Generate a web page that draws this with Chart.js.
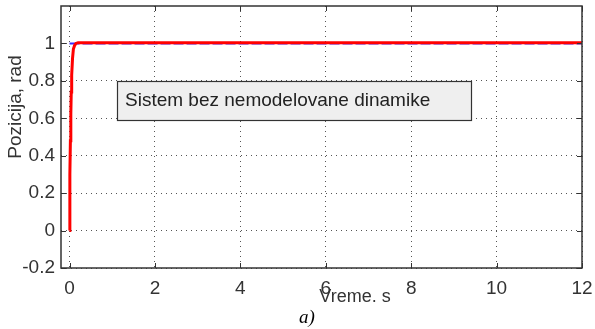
<!DOCTYPE html>
<html>
<head>
<meta charset="utf-8">
<script src="https://cdn.jsdelivr.net/npm/chart.js@4.4.1/dist/chart.umd.min.js"></script>
<style>
  html, body { margin: 0; padding: 0; background: #fff; }
  #wrap { width: 595px; height: 329px; position: relative; }
</style>
</head>
<body>
<div id="wrap"><canvas id="c" width="595" height="329"></canvas></div>
<script>
// Step response of the position loop (time in s, position in rad)
const timeResp = [0, 0.005, 0.01, 0.02, 0.03, 0.04, 0.05, 0.07, 0.09, 0.12, 0.15, 0.2, 0.5, 1, 2, 4, 6, 8, 10, 12];
const posResp  = [0, 0.15, 0.3, 0.48, 0.62, 0.74, 0.83, 0.92, 0.97, 0.99, 1.0, 1.004, 1.004, 1.004, 1.004, 1.004, 1.004, 1.004, 1.004, 1.004];
// Reference position
const timeRef = [0, 12];
const posRef  = [1.0, 1.0];
const xTicks = [0, 2, 4, 6, 8, 10, 12];
const yTicks = [-0.2, 0, 0.2, 0.4, 0.6, 0.8, 1];
const xTitle = 'Vreme. s';
const yTitle = 'Pozicija, rad';
const boxText = 'Sistem bez nemodelovane dinamike';
const caption = 'a)';

const toXY = (xs, ys) => xs.map((x, i) => ({ x, y: ys[i] }));

const FONT = '"Liberation Sans", Arial, sans-serif';

const decor = {
  id: 'decor',
  afterDraw(chart) {
    const { ctx, chartArea: a, scales } = chart;
    const xs = scales.x, ys = scales.y;
    ctx.save();
    // inward ticks on all four sides
    ctx.strokeStyle = '#333';
    ctx.lineWidth = 1;
    const L = 5;
    xTicks.forEach(v => {
      const px = Math.round(xs.getPixelForValue(v)) + 0.5;
      ctx.beginPath();
      ctx.moveTo(px, a.bottom); ctx.lineTo(px, a.bottom - L);
      ctx.moveTo(px, a.top); ctx.lineTo(px, a.top + L);
      ctx.stroke();
    });
    yTicks.forEach(v => {
      const py = Math.round(ys.getPixelForValue(v)) + 0.5;
      ctx.beginPath();
      ctx.moveTo(a.left, py); ctx.lineTo(a.left + L, py);
      ctx.moveTo(a.right, py); ctx.lineTo(a.right - L, py);
      ctx.stroke();
    });
    // frame
    ctx.strokeStyle = '#333';
    ctx.lineWidth = 1.5;
    ctx.strokeRect(a.left, a.top, a.right - a.left, a.bottom - a.top);

    // annotation box
    ctx.fillStyle = '#efefef';
    ctx.fillRect(117, 81, 354, 39);
    ctx.strokeStyle = '#333';
    ctx.lineWidth = 1.2;
    ctx.strokeRect(117.5, 81.5, 354, 39);
    ctx.fillStyle = '#222';
    ctx.font = '19px ' + FONT;
    ctx.textBaseline = 'middle';
    ctx.textAlign = 'left';
    ctx.fillText(boxText, 125, 101);

    // axis titles
    ctx.fillStyle = '#333';
    ctx.font = '18px ' + FONT;
    ctx.textAlign = 'center';
    ctx.fillText(xTitle, 355, 297);
    ctx.save();
    ctx.translate(16, 107);
    ctx.rotate(-Math.PI / 2);
    ctx.font = '19px ' + FONT;
    ctx.fillText(yTitle, 0, 0);
    ctx.restore();

    // caption
    ctx.fillStyle = '#000';
    ctx.font = 'italic 19px "Liberation Serif", "Times New Roman", serif';
    ctx.fillText(caption, 307, 318);
    ctx.restore();
  }
};

new Chart(document.getElementById('c'), {
  type: 'scatter',
  data: {
    datasets: [
      {
        label: 'ref',
        data: toXY(timeRef, posRef),
        showLine: true,
        borderColor: '#3a2bff',
        borderWidth: 2,
        borderDash: [10, 3],
        pointRadius: 0,
        order: 2
      },
      {
        label: 'resp',
        data: toXY(timeResp, posResp),
        showLine: true,
        borderColor: '#ff0000',
        borderWidth: 3,
        pointRadius: 0,
        tension: 0,
        order: 1
      }
    ]
  },
  options: {
    responsive: false,
    animation: false,
    devicePixelRatio: 1,
    layout: { padding: { left: 0, right: 13, top: 6, bottom: 0 } },
    plugins: { legend: { display: false }, tooltip: { enabled: false } },
    scales: {
      x: {
        type: 'linear',
        min: -0.2, max: 12,
        afterBuildTicks: s => { s.ticks = xTicks.map(v => ({ value: v })); },
        afterFit: s => { s.height = 61; s.paddingLeft = 0; s.paddingRight = 0; },
        grid: { color: '#555', lineWidth: 1, drawTicks: false, tickLength: 0 },
        border: { display: false, dash: [1, 4] },
        ticks: { color: '#333', font: { family: FONT, size: 19 }, padding: 9, maxRotation: 0, autoSkip: false }
      },
      y: {
        type: 'linear',
        min: -0.2, max: 1.2,
        afterBuildTicks: s => { s.ticks = yTicks.map(v => ({ value: v })); },
        afterFit: s => { s.width = 61; s.paddingTop = 0; s.paddingBottom = 0; },
        grid: { color: '#555', lineWidth: 1, drawTicks: false, tickLength: 0 },
        border: { display: false, dash: [1, 4] },
        ticks: {
          color: '#333', font: { family: FONT, size: 19 }, padding: 6,
          callback: v => String(Math.round(v * 10) / 10)
        }
      }
    }
  },
  plugins: [decor]
});
</script>
</body>
</html>
